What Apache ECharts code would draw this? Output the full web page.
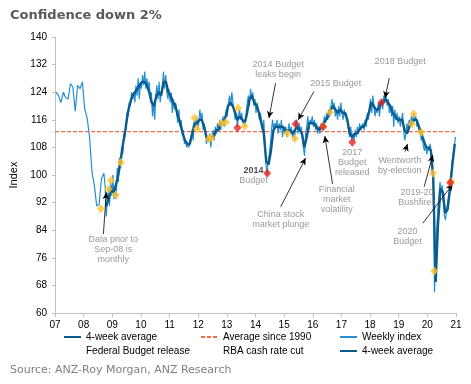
<!DOCTYPE html>
<html>
<head>
<meta charset="utf-8">
<script src="https://cdn.jsdelivr.net/npm/echarts@6/dist/echarts.min.js"></script>
<style>
html, body { margin: 0; padding: 0; background: #fff; }
#chart { width: 471px; height: 384px; }
</style>
</head>
<body>
<div id="chart"></div>
<script>
// monthly readings, Jan-07 .. Sep-08
const monthlyStart = 2007.04;
const monthlyIdx = [124, 123, 121, 124, 122.5, 122, 126.5, 125.5, 118.5, 126, 125, 127,
    119, 116.5, 111, 101, 97, 91, 91.5, 99, 100.5];

// weekly index from Oct-08, read every second week (13 per half year)
const weeklyStart = 2008.75;
const weeklyIdx = [
    97, 88, 93, 96, 91, 98, 94, 100, 93, 97, 93, 102, 98,
    105, 102, 108, 106, 112, 111, 115, 118, 117, 121, 120, 124, 122,
    124, 121, 126, 123, 128, 122, 127, 125, 129, 126, 130, 125, 128,
    125, 127, 122, 124, 117, 121, 116, 123, 126, 122, 127, 121, 124,
    126, 130, 125, 129, 124, 122, 125, 121, 124, 118, 122, 119, 121,
    118, 115, 119, 114, 116, 112, 113, 109, 110, 108, 109, 108, 110,
    111, 113, 110, 116, 114, 117, 113, 115, 119, 116, 118, 113, 115,
    112, 109, 111, 110, 112, 108, 111, 113, 110, 114, 112, 115, 113,
    116, 113, 115, 117, 114, 116, 119, 117, 121, 123, 120, 124, 121,
    119, 116, 118, 114, 117, 119, 116, 118, 115, 116, 114, 118, 121,
    123, 120, 125, 122, 124, 120, 122, 118, 121, 119, 116, 118, 115,
    113, 116, 110, 103, 100, 104, 106, 109, 113, 116, 113, 115, 114,
    116, 112, 115, 113, 116, 111, 114, 112, 114, 111, 113, 115, 112,
    114, 111, 113, 110, 115, 116, 112, 115, 113, 114, 111, 108, 105.5,
    112, 114, 117, 113, 116, 115, 117, 114, 116, 113, 115, 112, 114,
    112, 115, 113, 114, 117, 115, 118, 116, 119, 117, 120, 122, 119,
    121, 117, 119, 116, 120, 117, 121, 118, 116, 119, 117, 118, 115,
    113, 111, 114, 110, 112, 110, 113, 111, 114, 112, 115, 113, 114,
    115, 113, 116, 114, 118, 116, 120, 122, 118, 123, 120, 117, 119,
    118, 121, 117, 120, 122, 119, 123, 121, 124, 120, 122, 118, 120,
    117, 120, 114, 119, 116, 118, 115, 117, 114, 116, 118, 113, 110,
    112, 115, 113, 116, 114, 117, 115, 118, 116, 117, 114, 115, 113,
    112, 110, 111, 108, 107, 109, 106, 108, 107, 109, 107, 105, 95,
    66, 75, 84, 90, 94, 98, 95, 97, 92, 88, 87, 90, 92,
    94, 98, 100, 104, 106, 108, 111
];

// 4-week average, one reading per month from Oct-08
const avgStart = 2008.79;
const fourWeekAvg = [
    91, 93, 96, 95, 97, 100, 104, 109, 113, 118, 121, 123,
    124, 125, 126, 127, 127, 126, 124, 121, 120, 123, 124, 123,
    127, 127, 124, 123, 121, 120, 117, 115, 112, 110, 109, 109,
    112, 115, 115, 116, 116, 114, 111, 110, 111, 111, 113, 113,
    115, 115, 117, 120, 121, 120, 118, 116, 117, 116, 115, 118,
    122, 123, 121, 120, 118, 115, 112, 104, 103, 107, 113, 114,
    114, 114, 114, 113, 113, 113, 112, 113, 114, 113, 112, 108,
    111, 115, 115, 115, 114, 113, 114, 115, 116, 117, 119, 120,
    119, 118, 119, 118, 118, 116, 112, 111, 112, 112, 113, 114,
    114, 116, 118, 121, 120, 119, 119, 121, 121, 122, 121, 120,
    118, 117, 116, 116, 116, 113, 112, 114, 115, 116, 116, 114,
    112, 110, 108, 108, 107, 99, 69, 86, 96, 95, 89, 90,
    96, 103, 109
];

const avgSince1990 = 112.6;

const budgetPts = [[2013.37, 113.7], [2014.41, 100.5], [2015.40, 114.8], [2016.36, 114],
    [2017.38, 109.5], [2018.40, 121], [2020.80, 97.8]];

const rbaPts = [[2008.60, 90.2], [2008.87, 95.9], [2008.95, 98.4], [2009.12, 94.2], [2009.30, 103.6],
    [2011.87, 116.5], [2011.96, 113.3], [2012.37, 110.4], [2012.46, 110.9], [2012.80, 115],
    [2012.97, 115.3], [2013.39, 119.4], [2013.62, 114.1], [2015.11, 112], [2015.37, 110.6],
    [2016.36, 114.1], [2016.60, 118.2], [2019.46, 114.7], [2019.52, 117.7], [2019.79, 112.4],
    [2020.20, 100.5], [2020.24, 72.2], [2020.84, 98]];

const yearTicks = ['07', '08', '09', '10', '11', '12', '13', '14', '15', '16', '17', '18', '19', '20', '21'];

// callouts, placed in data units
const notes = [
    {text: 'Data prior to\nSep-08 is\nmonthly', at: [2009.03, 78.3], arrow: [[2008.69, 82.9], [2008.79, 95]]},
    {text: '2014 Budget\nleaks begin', at: [2014.79, 130.6], arrow: [[2014.70, 126.6], [2014.47, 116.5]]},
    {text: '2015 Budget', at: [2016.80, 126.6], arrow: [[2016.04, 124.2], [2015.49, 116]]},
    {text: '2018 Budget', at: [2019.05, 132.9], arrow: [[2018.67, 128.1], [2018.52, 122.3]]},
    {text: '2014', at: [2013.93, 101.2], color: '#222'},
    {text: 'Budget', at: [2013.93, 98.3]},
    {text: 'China stock\nmarket plunge', at: [2014.88, 87], arrow: [[2014.88, 90.8], [2015.75, 104.9]]},
    {text: 'Financial\nmarket\nvolatility', at: [2016.84, 93], arrow: [[2016.69, 97.4], [2016.42, 111.3]]},
    {text: '2017\nBudget\nreleased', at: [2017.38, 103.7]},
    {text: 'Wentworth\nby-election', at: [2019.04, 102.8], arrow: [[2019.22, 106.8], [2019.31, 109]]},
    {text: '2019-20\nBushfires', at: [2019.64, 93.6], arrow: [[2019.89, 96.6], [2020.19, 105.8]]},
    {text: '2020\nBudget', at: [2019.31, 82.3], arrow: [[2019.84, 86], [2020.89, 97.4]]}
];

const weeklyData = monthlyIdx.map((v, i) => [monthlyStart + i / 12, v])
    .concat(weeklyIdx.map((v, i) => [weeklyStart + i / 26, v]));
const avgData = fourWeekAvg.map((v, i) => [avgStart + i / 12, v]);

const DARK = '#0b5c8e';
const LIGHT = '#2590d0';

const hideIcon = {opacity: 0};
const legendBase = {
    orient: 'vertical',
    top: 327,
    itemGap: 4,
    itemWidth: 17,
    itemHeight: 10,
    selectedMode: false,
    textStyle: {fontSize: 10, color: '#000', fontFamily: 'Liberation Sans'}
};

const chart = echarts.init(document.getElementById('chart'));
chart.setOption({
    animation: false,
    textStyle: {fontFamily: 'Liberation Sans'},
    title: [
        {
            text: 'Confidence down 2%', left: 5, top: 4,
            textStyle: {fontFamily: 'DejaVu Sans', fontSize: 13, fontWeight: 'bold', color: '#595959'}
        },
        {
            text: 'Source: ANZ-Roy Morgan, ANZ Research', left: 5, top: 360,
            textStyle: {fontFamily: 'DejaVu Sans', fontSize: 11, fontWeight: 'normal', color: '#808080'}
        }
    ],
    legend: [
        Object.assign({}, legendBase, {left: 58, data: [
            {name: '4-week average', itemStyle: hideIcon},
            {name: 'Federal Budget release', itemStyle: hideIcon}]}),
        Object.assign({}, legendBase, {left: 195, data: [
            {name: 'Average since 1990', itemStyle: hideIcon},
            {name: 'RBA cash rate cut', itemStyle: hideIcon}]}),
        Object.assign({}, legendBase, {left: 334, data: [
            {name: 'Weekly index', itemStyle: hideIcon},
            {name: '4-week average ', itemStyle: hideIcon}]})
    ],
    grid: {left: 55, right: 15, top: 37, bottom: 71},
    xAxis: {
        type: 'value', min: 2007, max: 2021, interval: 1,
        axisLine: {lineStyle: {color: '#bfbfbf'}},
        axisTick: {length: 4, lineStyle: {color: '#bfbfbf'}},
        splitLine: {show: false},
        axisLabel: {
            color: '#000', fontSize: 10, margin: 7,
            formatter: v => yearTicks[Math.round(v - 2007)]
        }
    },
    yAxis: {
        type: 'value', min: 60, max: 140, interval: 8,
        name: 'Index', nameLocation: 'middle', nameGap: 34,
        nameTextStyle: {color: '#000', fontSize: 11},
        axisLine: {show: true, lineStyle: {color: '#bfbfbf'}},
        axisTick: {show: true, length: 3, lineStyle: {color: '#bfbfbf'}},
        splitLine: {show: false},
        axisLabel: {color: '#000', fontSize: 10, margin: 8}
    },
    series: [
        {
            name: 'Average since 1990', type: 'line', z: 1,
            data: [[2007, avgSince1990], [2021, avgSince1990]],
            symbol: 'none', color: '#f26b4a',
            lineStyle: {color: '#f26b4a', width: 1.2, type: [4, 2]}
        },
        {
            name: 'Weekly index', type: 'line', z: 2,
            data: weeklyData, symbol: 'none', color: LIGHT,
            lineStyle: {color: LIGHT, width: 1.2}
        },
        {
            name: '4-week average', type: 'line', z: 3,
            data: avgData, symbol: 'none', color: DARK,
            lineStyle: {color: DARK, width: 2.4}
        },
        {
            name: '4-week average ', type: 'line', data: [],
            symbol: 'none', color: DARK, lineStyle: {color: DARK, width: 2.4}
        },
        {
            name: 'RBA cash rate cut', type: 'scatter', z: 5,
            data: rbaPts, symbol: 'diamond', symbolSize: [8, 9],
            itemStyle: {color: '#fcc62f'}
        },
        {
            name: 'Federal Budget release', type: 'scatter', z: 6,
            data: budgetPts, symbol: 'diamond', symbolSize: [8, 9],
            itemStyle: {color: '#e5261f'}
        },
        {
            name: 'notes', type: 'scatter', z: 7, silent: true,
            symbolSize: 0.1, itemStyle: {color: 'transparent'},
            data: notes.map(n => ({
                value: n.at,
                label: {
                    show: true, position: 'inside', formatter: n.text,
                    color: n.color || '#7f7f7f', fontSize: 9, lineHeight: 10,
                    fontWeight: n.color ? 'bold' : 'normal', align: 'center'
                }
            })),
            markLine: {
                silent: true, animation: false,
                symbol: ['none', 'arrow'], symbolSize: [5, 7],
                label: {show: false},
                lineStyle: {color: '#000', width: 0.8, type: 'solid'},
                data: notes.filter(n => n.arrow).map(n => [{coord: n.arrow[0]}, {coord: n.arrow[1]}])
            }
        }
    ]
});
</script>
</body>
</html>
